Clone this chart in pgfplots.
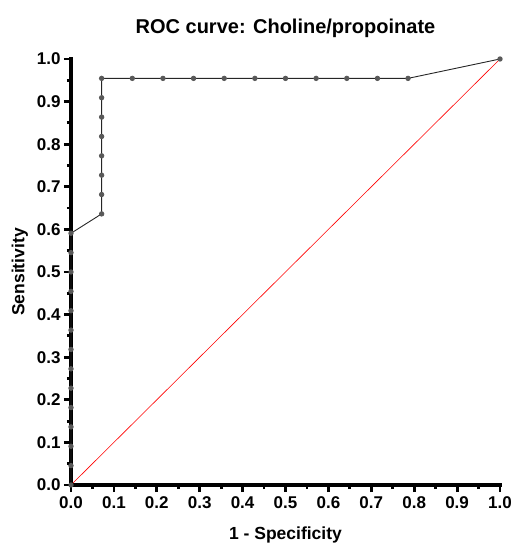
\documentclass[border=0pt]{standalone}
\usepackage{fontspec}
\setmainfont{Liberation Sans}
\usepackage{pgfplots}
\pgfplotsset{compat=1.18}
\begin{document}
\begin{tikzpicture}
\useasboundingbox (-71pt,-66pt) rectangle (444pt,485pt);
\begin{axis}[
  at={(0,0)}, anchor=south west,
  width=429pt, height=426pt, scale only axis,
  xmin=0, xmax=1, ymin=0, ymax=1,
  axis x line=bottom, axis y line=left,
  axis line style={-, line width=3.4pt, line cap=rect},
  every outer x axis line/.append style={-, line width=3.4pt, line cap=rect},
  every outer y axis line/.append style={-, line width=3.4pt, line cap=rect},
  xtick={0,0.1,...,1.0}, ytick={0,0.1,...,1.0},
  minor tick num=1,
  tick align=outside,
  major tick length=7pt, minor tick length=4pt,
  major tick style={line width=2.8pt, black},
  minor tick style={line width=2.8pt, black},
  /pgf/number format/assume math mode=true,
  /pgf/number format/.cd, fixed, fixed zerofill, precision=1, /pgfplots/.cd,
  tick label style={font=\fontsize{17}{19}\selectfont\bfseries},
  xticklabel style={yshift=-1pt},
  xlabel={1 - Specificity}, ylabel={Sensitivity},
  label style={font=\fontsize{17.5}{19}\selectfont\bfseries},
  xlabel style={yshift=-11pt},
  ylabel style={yshift=2pt},
  title={ROC curve: Choline/propoinate},
  title style={font=\fontsize{20}{22}\selectfont\bfseries, yshift=12pt},
  clip=false,
]
\addplot[red, line width=0.6pt] coordinates {(0,0) (1,1)};
\addplot[black!85, line width=0.9pt, mark=*, mark size=2.2pt,
  mark options={fill=black!65, draw=black!65}] coordinates {
(0,0) (0,0.0455) (0,0.0909) (0,0.1364) (0,0.1818) (0,0.2273) (0,0.2727)
(0,0.3182) (0,0.3636) (0,0.4091) (0,0.4545) (0,0.5) (0,0.5455) (0,0.5909)
(0.0714,0.6364) (0.0714,0.6818) (0.0714,0.7273) (0.0714,0.7727)
(0.0714,0.8182) (0.0714,0.8636) (0.0714,0.9091) (0.0714,0.9545)
(0.1429,0.9545) (0.2143,0.9545) (0.2857,0.9545) (0.3571,0.9545)
(0.4286,0.9545) (0.5,0.9545) (0.5714,0.9545) (0.6429,0.9545)
(0.7143,0.9545) (0.7857,0.9545) (1,1)
};
\end{axis}
\end{tikzpicture}
\end{document}
